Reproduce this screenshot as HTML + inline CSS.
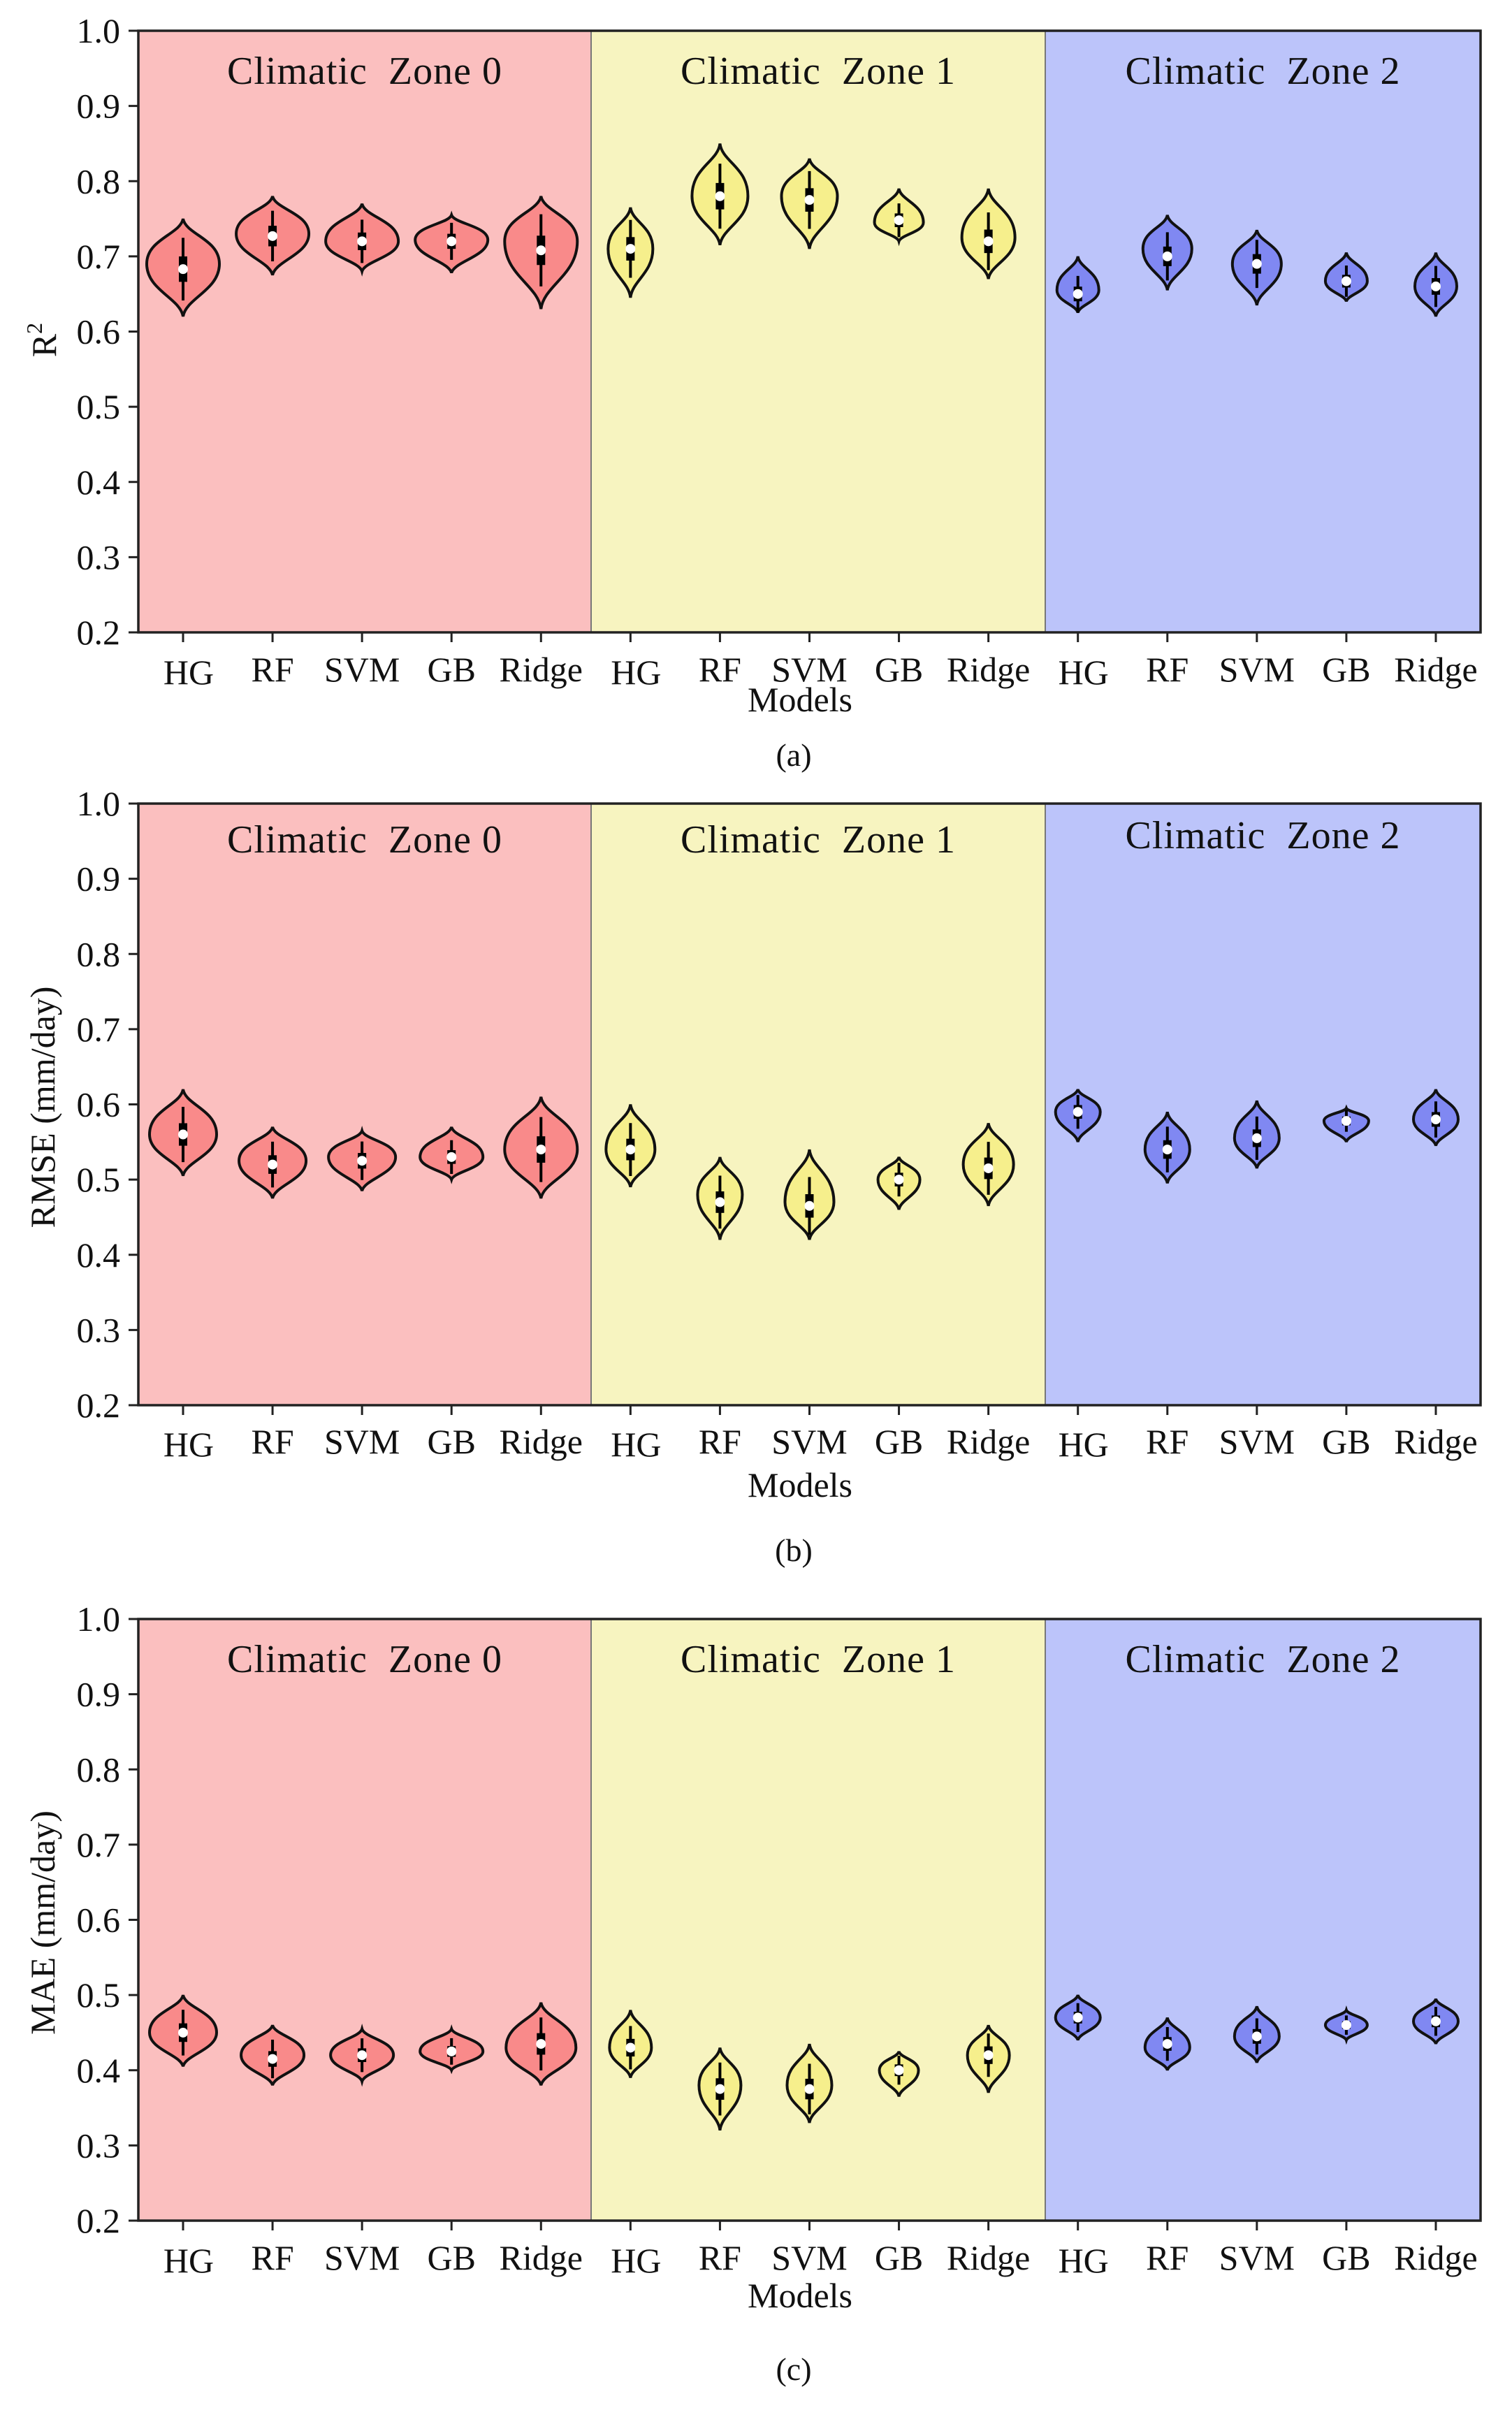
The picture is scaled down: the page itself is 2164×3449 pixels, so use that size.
<!DOCTYPE html>
<html><head><meta charset="utf-8"><style>
html,body{margin:0;padding:0;background:#fff;}
svg text{font-family:"Liberation Serif",serif;fill:#111;}
</style></head><body>
<svg id="s" width="2164" height="3444" xmlns="http://www.w3.org/2000/svg"></svg>
<script>
const S=document.getElementById('s');
let h='';
const L=198,R=2119,Z1=846,Z2=1496;
const bgs=['#fbbfbf','#f7f4c0','#bcc4fa'];
const fills=['#f98a8a','#f6ef8c','#8088f2'];
const names=['HG','RF','SVM','GB','Ridge'];
const panels=[
 {top:44,bot:905,ylab:'R',sup:true,cap:'(a)',models:1018,capY:1096,tl:975,
  d:[[.62,.75,.69,52,.683],[.675,.78,.73,52,.727],[.68,.77,.72,52,.72],[.678,.755,.722,52,.72],[.63,.78,.72,52,.708],
     [.645,.765,.71,32,.71],[.715,.85,.78,40,.78],[.71,.83,.78,40,.775],[.72,.79,.745,35,.748],[.67,.79,.725,38,.72],
     [.625,.70,.655,30,.65],[.655,.755,.71,35,.70],[.635,.735,.69,35,.69],[.64,.705,.667,30,.667],[.62,.705,.66,30,.66]]},
 {top:1150,bot:2011,ylab:'RMSE (mm/day)',cap:'(b)',models:2142,capY:2234,tl:2080,
  d:[[.505,.62,.56,48,.56],[.475,.57,.525,48,.52],[.485,.565,.53,48,.525],[.50,.57,.53,45,.53],[.475,.61,.54,52,.54],
     [.49,.60,.54,35,.54],[.42,.53,.48,32,.47],[.42,.54,.47,35,.465],[.46,.53,.50,30,.50],[.465,.575,.52,36,.515],
     [.55,.62,.59,32,.59],[.495,.59,.54,32,.54],[.515,.605,.555,32,.555],[.55,.595,.578,32,.578],[.545,.62,.58,32,.58]]},
 {top:2317,bot:3178,ylab:'MAE (mm/day)',cap:'(c)',models:3302,capY:3406,tl:3248,
  d:[[.405,.50,.45,48,.45],[.38,.46,.42,45,.415],[.385,.455,.42,45,.42],[.40,.455,.425,45,.425],[.38,.49,.43,50,.435],
     [.39,.48,.43,30,.43],[.32,.43,.38,30,.375],[.33,.435,.38,32,.375],[.365,.425,.40,28,.40],[.37,.46,.42,30,.42],
     [.44,.50,.47,32,.47],[.40,.47,.43,32,.435],[.41,.485,.445,32,.445],[.44,.48,.46,30,.46],[.435,.495,.465,32,.465]]}
];
panels.forEach((p,pi)=>{
 const Y=v=>p.bot-(v-0.2)/0.8*(p.bot-p.top);
 h+=`<rect x="${L}" y="${p.top}" width="${Z1-L}" height="${p.bot-p.top}" fill="${bgs[0]}"/>`;
 h+=`<rect x="${Z1}" y="${p.top}" width="${Z2-Z1}" height="${p.bot-p.top}" fill="${bgs[1]}"/>`;
 h+=`<rect x="${Z2}" y="${p.top}" width="${R-Z2}" height="${p.bot-p.top}" fill="${bgs[2]}"/>`;
 h+=`<line x1="${Z1}" y1="${p.top}" x2="${Z1}" y2="${p.bot}" stroke="#777" stroke-width="2"/>`;
 h+=`<line x1="${Z2}" y1="${p.top}" x2="${Z2}" y2="${p.bot}" stroke="#777" stroke-width="2"/>`;
 h+=`<rect x="${L}" y="${p.top}" width="${R-L}" height="${p.bot-p.top}" fill="none" stroke="#222" stroke-width="3.5"/>`;
 const zc=[(L+Z1)/2,(Z1+Z2)/2,(Z2+R)/2];
 const ty=p.top+(pi==1?70:76);
 ['Climatic  Zone 0','Climatic  Zone 1','Climatic  Zone 2'].forEach((t,i)=>{
  h+=`<text x="${zc[i]}" y="${ty+(pi==1&&i==2?-6:0)}" font-size="56" letter-spacing="1" text-anchor="middle" xml:space="preserve">${t}</text>`;});
 for(let k=2;k<=10;k++){const v=k/10,y=Y(v);
  h+=`<line x1="${L-14}" y1="${y}" x2="${L}" y2="${y}" stroke="#222" stroke-width="3"/>`;
  h+=`<text x="${L-26}" y="${y+17}" font-size="50" text-anchor="end">${v.toFixed(1)}</text>`;}
 for(let i=0;i<15;i++){const x=262+128.07*i;
  h+=`<line x1="${x}" y1="${p.bot}" x2="${x}" y2="${p.bot+14}" stroke="#222" stroke-width="3"/>`;
  h+=`<text x="${x+(i%5==0?8:0)}" y="${p.tl+(i%5==0?4:0)}" font-size="50" text-anchor="middle">${names[i%5]}</text>`;
  const [lo,hi,w,hw,med]=p.d[i];const zi=Math.floor(i/5);
  const yt=Y(hi),yb=Y(lo),yw=Y(w),d1=yw-yt,d2=yb-yw;
  const path=`M${x},${yt} C${x+hw*0.08},${yt+d1*0.35} ${x+hw},${yw-d1*0.55} ${x+hw},${yw} C${x+hw},${yw+d2*0.5} ${x+hw*0.08},${yb-d2*0.35} ${x},${yb} C${x-hw*0.08},${yb-d2*0.35} ${x-hw},${yw+d2*0.5} ${x-hw},${yw} C${x-hw},${yw-d1*0.55} ${x-hw*0.08},${yt+d1*0.35} ${x},${yt}Z`;
  h+=`<path d="${path}" fill="${fills[zi]}" stroke="#111" stroke-width="4"/>`;
  const r=(hi-lo);
  h+=`<line x1="${x}" y1="${Y(med+r*0.32)}" x2="${x}" y2="${Y(med-r*0.32)}" stroke="#000" stroke-width="4"/>`;
  h+=`<rect x="${x-6}" y="${Y(med+r*0.13)}" width="12" height="${Y(med-r*0.13)-Y(med+r*0.13)}" fill="#000"/>`;
  h+=`<circle cx="${x}" cy="${Y(med)}" r="7" fill="#fff"/>`;
 }
 const yc=(p.top+p.bot)/2;
 if(p.sup){h+=`<text transform="translate(80,${yc+12}) rotate(-90)" font-size="50" text-anchor="middle">R<tspan dy="-20" font-size="32">2</tspan></text>`;}
 else{h+=`<text transform="translate(78,${yc+4}) rotate(-90)" font-size="50" text-anchor="middle">${p.ylab}</text>`;}
 h+=`<text x="1145" y="${p.models}" font-size="50" text-anchor="middle">Models</text>`;
 h+=`<text x="1136" y="${p.capY}" font-size="46" text-anchor="middle">${p.cap}</text>`;
});
S.innerHTML=h;
</script>
</body></html>
